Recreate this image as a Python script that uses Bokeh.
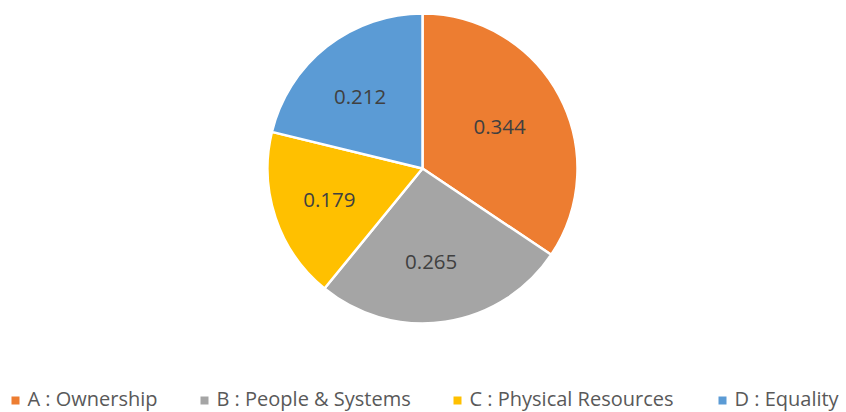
import numpy as np
from bokeh.plotting import figure
from bokeh.models import Range1d, ColumnDataSource
from bokeh.core.properties import value
from bokeh.embed import file_html
from bokeh.resources import INLINE

categories = ["A : Ownership", "B : People & Systems", "C : Physical Resources", "D : Equality"]
shares = [0.344, 0.265, 0.179, 0.212]
labels = ["0.344", "0.265", "0.179", "0.212"]
colors = ["#ED7D31", "#A5A5A5", "#FFC000", "#5B9BD5"]

W, H = 846, 412
CX, CY = 422, 168          # pie centre in screen pixels
R = 155
FONT = value("Open Sans")

p = figure(width=W, height=H, output_backend="svg", toolbar_location=None,
           x_range=Range1d(-CX, W - CX), y_range=Range1d(-(H - CY), CY),
           min_border=0, outline_line_color=None)
p.axis.visible = False
p.grid.visible = False
p.background_fill_color = "white"
p.border_fill_color = "white"

vals = np.array(shares)
cum = np.concatenate([[0], np.cumsum(vals)])
start = np.pi / 2 - 2 * np.pi * cum[:-1]
end = np.pi / 2 - 2 * np.pi * cum[1:]
mid = (start + end) / 2

src = ColumnDataSource(dict(start=start, end=end, color=colors,
                            lx=0.6 * R * np.cos(mid), ly=0.6 * R * np.sin(mid),
                            label=labels))
p.wedge(x=0, y=0, radius=R, start_angle="start", end_angle="end", direction="clock",
        fill_color="color", line_color="white", line_width=2.5, source=src)
p.text(x="lx", y="ly", text="label", source=src, text_align="center", text_baseline="middle",
       x_offset=-5, y_offset=2,
       text_font=FONT, text_font_size="20.5px", text_color="#404040")

# legend (layout positions in screen pixels)
leg_marker_x = [15, 204, 457, 722]
leg_marker_y = 400
leg_text_y = 398
marker_x = [x - CX for x in leg_marker_x]
text_x = [x - CX + 12 for x in leg_marker_x]
p.rect(x=marker_x, y=[CY - leg_marker_y] * 4, width=8, height=8, fill_color=colors, line_color=None)
p.text(x=text_x, y=[CY - leg_text_y] * 4, text=categories, text_align="left", text_baseline="middle",
       text_font=FONT, text_font_size="20px", text_color="#595959")

open("out.html", "w").write(file_html(p, INLINE))
